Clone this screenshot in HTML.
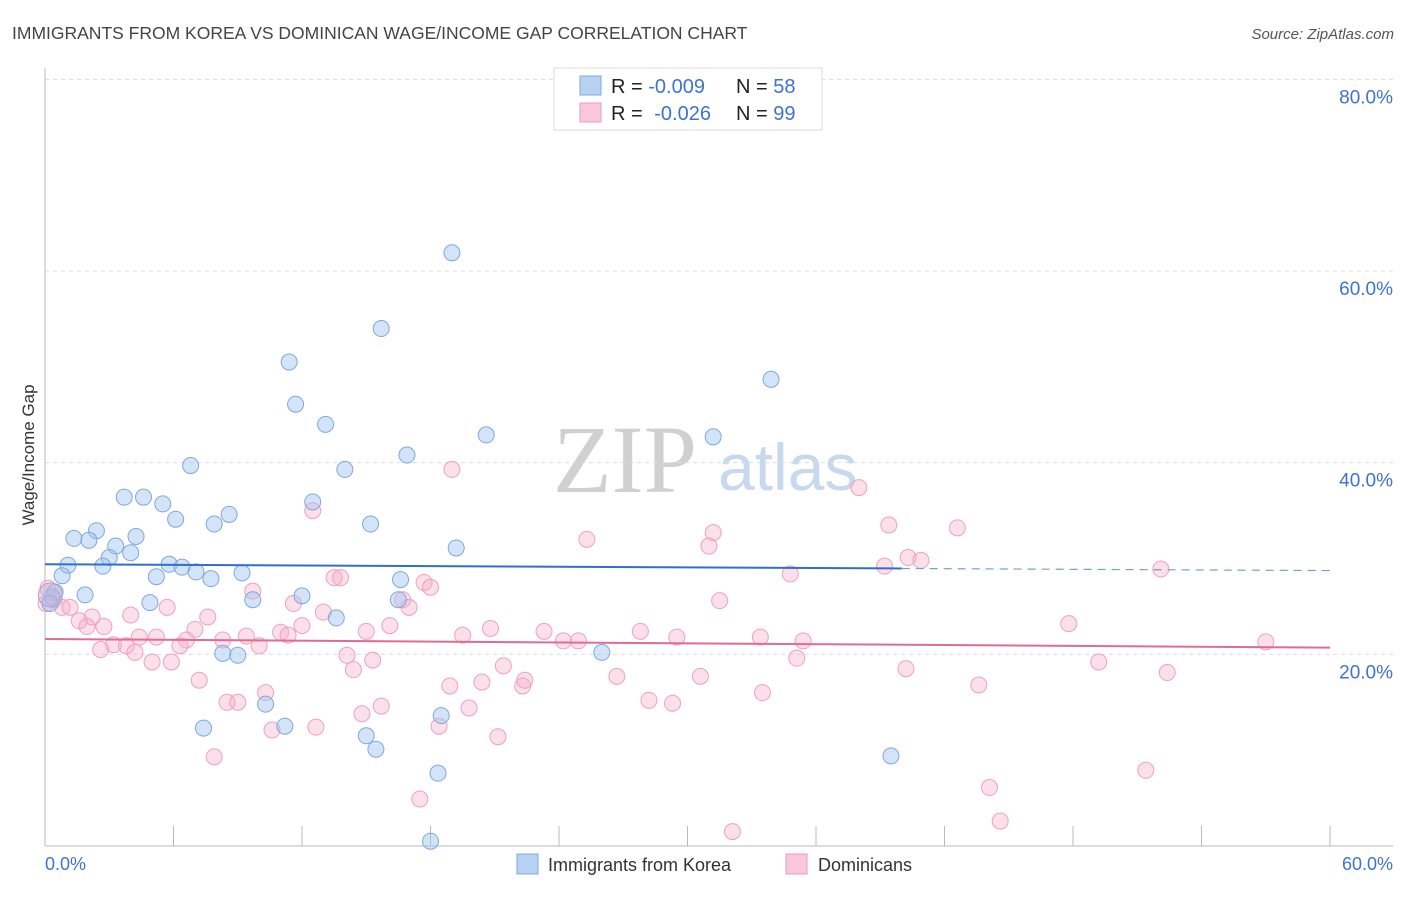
<!DOCTYPE html>
<html><head><meta charset="utf-8"><style>
body{margin:0;background:#fff;font-family:"Liberation Sans",sans-serif;}
svg text{font-family:"Liberation Sans",sans-serif;}
</style></head><body>
<svg id="chart" width="1406" height="892">
<text x="12" y="39" font-size="17.5" fill="#444">IMMIGRANTS FROM KOREA VS DOMINICAN WAGE/INCOME GAP CORRELATION CHART</text>
<text x="1394" y="39" font-size="15" fill="#555" font-style="italic" text-anchor="end">Source: ZipAtlas.com</text>
<g>
<text x="553" y="492" style="font-family:'Liberation Serif',serif;font-size:96px" fill="#d0d0d0">ZIP</text>
<text x="718" y="490" font-size="66" fill="#c8d9ef">atlas</text>
</g>
<g id="grid"></g>
<g id="ticks"></g>
<g id="xaxis"></g>
<text transform="translate(34,455) rotate(-90)" font-size="17" fill="#333" text-anchor="middle">Wage/Income Gap</text>
<g id="pts"></g>
<g id="trends"></g>
<g>
<rect x="554" y="68" width="268" height="62" fill="#fff" stroke="#ddd"/>
<rect x="580" y="76" width="21" height="19" fill="#b8d2f4" stroke="#7ea8e0"/>
<rect x="580" y="103" width="21" height="19" fill="#f8c8d8" stroke="#ec9cb6"/>
<text x="611" y="93" font-size="20" fill="#222">R = <tspan fill="#3d74d0">-0.009</tspan><tspan x="736">N = </tspan><tspan fill="#3d74d0">58</tspan></text>
<text x="611" y="120" font-size="20" fill="#222">R = <tspan fill="#3d74d0" dx="6">-0.026</tspan><tspan x="736">N = </tspan><tspan fill="#3d74d0">99</tspan></text>
</g>
<g>
<rect x="517" y="854" width="21" height="20" fill="#b8d2f4" stroke="#7ea8e0"/>
<text x="548" y="871" font-size="18" fill="#333">Immigrants from Korea</text>
<rect x="786" y="854" width="21" height="20" fill="#f8c8d8" stroke="#ec9cb6"/>
<text x="818" y="871" font-size="18" fill="#333">Dominicans</text>
</g>
</svg>
<script>
const yTicks=[20,40,60,80];
const xTickVals=[0,6,12,18,24,30,36,42,48,54,60];
const koreaX=[19.0,15.7,11.4,33.9,11.7,13.1,20.6,31.2,16.9,14.0,6.8,3.7,4.6,5.5,12.5,6.1,8.6,7.9,15.2,2.4,1.35,2.05,4.25,3.3,19.2,1.07,3.0,4.0,2.7,5.8,6.4,7.05,5.2,7.75,9.2,0.8,16.6,0.47,1.87,12.0,9.7,4.9,16.5,13.6,8.3,9.0,26.0,10.3,7.4,11.2,18.5,15.0,15.45,18.35,39.5,18.0,0.33,0.23];
const koreaY=[61.9,54.0,50.5,48.7,46.1,44.0,42.9,42.7,40.8,39.3,39.7,36.4,36.4,35.7,35.9,34.1,34.6,33.6,33.6,32.9,32.1,31.9,32.3,31.3,31.1,29.3,30.1,30.6,29.2,29.4,29.1,28.6,28.1,27.9,28.5,28.2,27.8,26.5,26.2,26.1,25.7,25.4,25.7,23.8,20.1,19.9,20.2,14.8,12.3,12.5,13.6,11.5,10.1,7.6,9.4,0.5,26.0,25.3];
const domX=[19.0,38.0,12.5,39.4,42.6,31.2,31.0,25.3,40.3,40.9,39.2,52.1,34.8,13.5,13.8,17.7,18.0,9.7,31.5,16.7,17.0,11.6,0.14,0.42,0.8,1.17,0.05,4.0,5.7,7.6,2.2,1.6,2.75,1.96,13.0,12.0,16.1,15.0,7.0,20.8,23.3,27.8,47.8,11.0,11.35,9.4,8.3,6.6,4.4,5.2,3.2,3.8,2.6,6.3,10.0,19.5,24.2,24.9,29.5,33.4,35.4,4.2,5.0,5.9,14.1,15.3,35.1,49.2,57.0,21.4,14.4,20.4,22.3,26.7,30.6,40.2,52.4,7.2,10.3,43.6,18.9,8.5,9.0,28.2,29.3,33.5,15.7,14.8,19.8,10.6,12.65,18.4,21.15,7.9,51.4,44.1,17.5,44.6,32.1,22.4];
const domY=[39.3,37.4,35.0,33.5,33.2,32.7,31.3,32.0,30.1,29.8,29.2,28.9,28.4,28.0,28.0,27.5,27.0,26.6,25.6,25.7,24.9,25.3,26.9,25.7,24.9,24.9,25.3,24.1,24.9,23.9,23.9,23.5,22.9,22.9,24.4,23.0,23.0,22.4,22.6,22.7,22.4,22.4,23.2,22.3,22.0,21.9,21.5,21.5,21.8,21.8,21.0,20.9,20.5,20.9,20.9,22.0,21.4,21.4,21.8,21.8,21.4,20.2,19.2,19.2,19.9,19.4,19.6,19.2,21.3,18.8,18.4,17.1,16.7,17.7,17.7,18.5,18.1,17.3,16.0,16.8,16.7,15.0,15.0,15.2,14.9,16.0,14.6,13.8,14.4,12.1,12.4,12.5,11.4,9.3,7.9,6.1,4.9,2.6,1.5,17.3];
const koreaTrend=[29.4,-0.011];
const domTrend=[21.6,-0.015];
const X=v=>45+v*21.417, Y=v=>846-v*9.583;
const NS='http://www.w3.org/2000/svg';
function mk(tag,attrs,parent){const e=document.createElementNS(NS,tag);for(const k in attrs)e.setAttribute(k,attrs[k]);parent.appendChild(e);return e;}
const grid=document.getElementById('grid'),ticks=document.getElementById('ticks'),xa=document.getElementById('xaxis');
yTicks.forEach(t=>{
 const l=mk('line',{x1:45,x2:1393,y1:Y(t),y2:Y(t),stroke:'#ddd','stroke-dasharray':'4,4'},grid);
 
 
 const tx=mk('text',{x:1393,y:Y(t)+24,'font-size':19,fill:'#3d74d0','text-anchor':'end'},ticks);
 tx.textContent=t.toFixed(1)+'%';
 
 
});
mk('line',{x1:45,x2:45,y1:68,y2:846,stroke:'#bbb'},xa);
mk('line',{x1:45,x2:1393,y1:846,y2:846,stroke:'#bbb'},xa);
xTickVals.forEach(t=>{const l=mk('line',{x1:X(t),x2:X(t),y1:826,y2:846,stroke:'#bbb'},xa);
 
 });
const x0=mk('text',{x:45,y:870,'font-size':18,fill:'#3d74d0'},xa);x0.textContent='0.0%';


const x1=mk('text',{x:1393,y:870,'font-size':18,fill:'#3d74d0','text-anchor':'end'},xa);x1.textContent='60.0%';


const pts=document.getElementById('pts');
domX.forEach((v,i)=>{const c=mk('circle',{cx:X(v),cy:Y(domY[i]),r:8,fill:'rgba(244,176,200,0.4)',stroke:'#eea2bb','stroke-width':1},pts);
 
 });
koreaX.forEach((v,i)=>{const c=mk('circle',{cx:X(v),cy:Y(koreaY[i]),r:8,fill:'rgba(160,196,240,0.45)',stroke:'#7ea8e0','stroke-width':1},pts);
 
 });
const big=mk('circle',{cx:X(0.25),cy:Y(26.2),r:12,fill:'rgba(200,180,220,0.5)',stroke:'#b0a0d0'},pts);


const tr=document.getElementById('trends');
let l=mk('line',{x1:X(0),y1:Y(koreaTrend[0]),x2:X(40),y2:Y(koreaTrend[0]+koreaTrend[1]*40),stroke:'#2f6fd0','stroke-width':2},tr);


l=mk('line',{x1:X(40),y1:Y(koreaTrend[0]+koreaTrend[1]*40),x2:X(60),y2:Y(koreaTrend[0]+koreaTrend[1]*60),stroke:'#6f9fe0','stroke-width':1.2,'stroke-dasharray':'8,6'},tr);


l=mk('line',{x1:X(0),y1:Y(domTrend[0]),x2:X(60),y2:Y(domTrend[0]+domTrend[1]*60),stroke:'#e06b94','stroke-width':2},tr);


</script>
</body></html>
